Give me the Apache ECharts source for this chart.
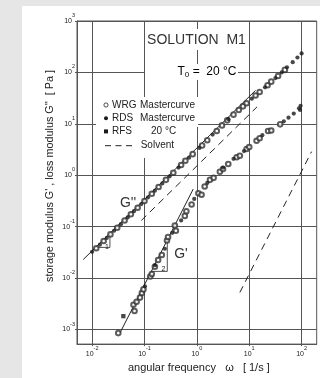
<!DOCTYPE html>
<html><head><meta charset="utf-8">
<script src="https://cdn.jsdelivr.net/npm/echarts@6/dist/echarts.min.js"></script>
<style>
html,body{margin:0;padding:0;background:#e6e6e6;width:320px;height:378px;overflow:hidden;}
#panel{position:absolute;left:22px;top:6px;right:0;bottom:0;background:#fff;}
#c{position:absolute;left:0;top:0;width:320px;height:378px;}
</style>
</head><body><div id="panel"></div><div id="c"></div>
<script>
// axis ticks (log decades)
const xTicks = [0.01, 0.1, 1, 10, 100];
const yTicks = [0.001, 0.01, 0.1, 1, 10, 100, 1000];

// G'' loss modulus, WRG mastercurve (open circles)
const wrgLossW = [0.0120,0.0166,0.0224,0.0302,0.0417,0.055,0.0741,0.1,0.138,0.186,0.257,0.355,0.501,0.603,0.832,1.26,1.58,2.4,3.02,3.8,5.01,6.31,7.59,8.91,13.2,15.8,22.4,26.3,35.5,47.9];
const wrgLossG = [0.038,0.0525,0.0708,0.0955,0.132,0.174,0.234,0.316,0.437,0.589,0.813,1.12,1.58,1.91,2.57,3.80,4.79,7.24,9.33,11.7,15.1,18.6,21.9,25.1,35.5,41.7,56.2,66.1,85.1,112];
// G'' loss modulus, RDS mastercurve (filled circles)
const rdsLossW = [0.010,0.0141,0.0191,0.0263,0.0355,0.0479,0.0631,0.0871,0.117,0.158,0.219,0.302,0.447,0.708,1.12,2.0,3.98,11.2,20.0,31.6,41.7,52.5,67.6,83.2,100];
const rdsLossG = [0.0324,0.0447,0.0603,0.0832,0.112,0.151,0.200,0.275,0.372,0.501,0.692,0.955,1.41,2.19,3.39,6.17,12.3,30.9,51.3,77.6,100,126,158,195,234];
// G' storage modulus, WRG mastercurve (open circles)
const wrgStoreW = [0.0316,0.0646,0.0617,0.0708,0.0822,0.0891,0.0955,0.129,0.138,0.158,0.182,0.214,0.269,0.282,0.380,0.398,0.589,0.631,0.794,1.07,1.23,1.41,1.78,2.09,2.75,3.16,3.98,5.75,6.61,8.91,10,13.8,15.8,22.9,26.3,38.9];
const wrgStoreG = [0.000851,0.00229,0.00302,0.00347,0.00417,0.00513,0.00603,0.0107,0.0120,0.0166,0.0224,0.0282,0.0537,0.0631,0.105,0.0832,0.162,0.200,0.269,0.447,0.417,0.603,0.813,0.891,1.17,1.32,1.66,2.24,2.40,3.24,3.55,4.68,5.25,7.24,7.41,9.77];
// G' storage modulus, RDS mastercurve (filled circles)
const rdsStoreW = [0.102,0.158,0.245,0.339,0.501,0.891,1.58,3.16,5.01,7.94,17.8,45.7,56.2,70.8,89.1,95.5,93.3];
const rdsStoreG = [0.00692,0.0178,0.0372,0.0759,0.132,0.347,0.708,1.41,2.09,2.95,6.03,11.2,13.2,15.8,20.0,22.4,18.6];
// RFS at 20 °C (filled square)
const rfsW = [0.0395];
const rfsG = [0.00182];
// straight lines: slope-1 fit of G'', slope-2 fit of G', solvent G'' and G'
const fitLossW = [0.00676, 13.2];
const fitLossG = [0.0229, 44.7];
const fitStoreW = [0.0339, 0.851];
const fitStoreG = [0.000851, 0.537];
const solvLossW = [0.0871, 14.1];
const solvLossG = [0.132, 21.4];
const solvStoreW = [6.61, 155];
const solvStoreG = [0.00525, 2.88];
// slope triangles
const tri1W = [0.01167, 0.0219, 0.0219];
const tri1G = [0.0395, 0.0395, 0.0741];
const tri2W = [0.1349, 0.2723, 0.2723];
const tri2G = [0.01349, 0.01349, 0.0550];

const pairs = (a, b) => a.map((v, i) => [v, b[i]]);
const ink = '#222';
const gridCol = '#555';
const FONT = 'Liberation Sans, Arial, sans-serif';

const richLbl = {
  b: {fontSize: 7, fontFamily: FONT, color: ink, verticalAlign: 'middle'},
  s: {fontSize: 5.5, fontFamily: FONT, color: ink, padding: [0, 0, 11, 0], verticalAlign: 'top'}
};
const fmt = v => '{b|10}{s|' + Math.round(Math.log10(v)) + '}';

const lineSeries = (w, g, dash, width) => ({
  type: 'line', data: pairs(w, g), symbol: 'none', silent: true, z: 3,
  lineStyle: {color: ink, width: width || 1, type: dash ? [7, 5] : 'solid'}
});

const chart = echarts.init(document.getElementById('c'), null, {renderer: 'canvas'});
chart.setOption({
  backgroundColor: 'transparent',
  animation: false,
  grid: {left: 77, top: 21, right: 3.3, bottom: 28, show: true, borderColor: gridCol, borderWidth: 1, backgroundColor: 'transparent'},
  xAxis: {
    type: 'log', logBase: 10, min: 0.00515, max: 194,
    axisLine: {show: true, lineStyle: {color: gridCol, width: 1}},
    axisTick: {show: true, length: 2, customValues: xTicks, lineStyle: {color: gridCol}},
    axisLabel: {customValues: xTicks, formatter: fmt, rich: richLbl, margin: 1, color: ink},
    splitLine: {show: true, lineStyle: {color: gridCol, width: 1}},
    minorTick: {show: false}, minorSplitLine: {show: false},
    name: 'angular frequency   ω   [ 1/s ]', nameLocation: 'middle', nameGap: 16,
    nameTextStyle: {fontSize: 11, fontFamily: FONT, color: ink, verticalAlign: 'top', padding: [0, 0, 0, 4]}
  },
  yAxis: {
    type: 'log', logBase: 10, min: 0.00052, max: 1000,
    axisLine: {show: true, lineStyle: {color: gridCol, width: 1}},
    axisTick: {show: true, length: 2, customValues: yTicks, lineStyle: {color: gridCol}},
    axisLabel: {customValues: yTicks, formatter: fmt, rich: richLbl, margin: 2, color: ink},
    splitLine: {show: true, lineStyle: {color: gridCol, width: 1}},
    minorTick: {show: false}, minorSplitLine: {show: false}
  },
  series: [
    lineSeries(fitLossW, fitLossG, false, 1),
    lineSeries(fitStoreW, fitStoreG, false, 1),
    lineSeries(solvLossW, solvLossG, true, 1),
    lineSeries(solvStoreW, solvStoreG, true, 1),
    lineSeries(tri1W, tri1G, false, 0.8),
    lineSeries(tri2W, tri2G, false, 0.8),
    {type: 'scatter', name: 'WRG', data: pairs(wrgLossW, wrgLossG), symbol: 'emptyCircle', symbolSize: 4.6, z: 4,
     itemStyle: {color: '#333', borderColor: '#333', borderWidth: 0.8}},
    {type: 'scatter', name: 'WRG', data: pairs(wrgStoreW, wrgStoreG), symbol: 'emptyCircle', symbolSize: 4.6, z: 4,
     itemStyle: {color: '#333', borderColor: '#333', borderWidth: 0.8}},
    {type: 'scatter', name: 'RDS', data: pairs(rdsLossW, rdsLossG), symbol: 'circle', symbolSize: 4.2, z: 5,
     itemStyle: {color: '#1a1a1a'}},
    {type: 'scatter', name: 'RDS', data: pairs(rdsStoreW, rdsStoreG), symbol: 'circle', symbolSize: 4.2, z: 5,
     itemStyle: {color: '#1a1a1a'}},
    {type: 'scatter', name: 'RFS', data: pairs(rfsW, rfsG), symbol: 'rect', symbolSize: 4.3, z: 5,
     itemStyle: {color: '#1a1a1a'}}
  ],
  graphic: [
    // white boxes hiding the grid behind texts
    {type: 'rect', z: 1, silent: true, shape: {x: 96, y: 97, width: 102, height: 30}, style: {fill: '#fff'}},
    {type: 'rect', z: 1, silent: true, shape: {x: 96, y: 127, width: 84, height: 31}, style: {fill: '#fff'}},
    {type: 'rect', z: 1, silent: true, shape: {x: 145, y: 29, width: 104, height: 21}, style: {fill: '#fff'}},
    {type: 'rect', z: 1, silent: true, shape: {x: 145, y: 64, width: 93, height: 16}, style: {fill: '#fff'}},
    // title
    {type: 'text', z: 10, x: 196.5, y: 40, style: {text: 'SOLUTION  M1', font: '14px ' + FONT, fill: '#333', align: 'center', verticalAlign: 'middle'}},
    {type: 'text', z: 10, x: 207, y: 72, style: {
      text: '{a|T}{s|0}{a| =  20 °C}', align: 'center', verticalAlign: 'middle',
      rich: {a: {fontSize: 12, fontFamily: FONT, color: '#333'}, s: {fontSize: 8, fontFamily: FONT, color: '#333', padding: [6, 0, 0, 0]}}
    }},
    // legend
    {type: 'circle', z: 10, shape: {cx: 106, cy: 105, r: 2.1}, style: {fill: '#fff', stroke: ink, lineWidth: 0.8}},
    {type: 'circle', z: 10, shape: {cx: 106, cy: 118.3, r: 2.0}, style: {fill: '#1a1a1a'}},
    {type: 'rect', z: 10, shape: {x: 104, y: 129.4, width: 4, height: 4}, style: {fill: '#1a1a1a'}},
    {type: 'line', z: 10, shape: {x1: 105, y1: 145.7, x2: 134, y2: 145.7}, style: {stroke: ink, lineWidth: 1, lineDash: [6, 4.5]}},
    {type: 'text', z: 10, x: 112, y: 105, style: {text: 'WRG', font: '10px ' + FONT, fill: ink, verticalAlign: 'middle'}},
    {type: 'text', z: 10, x: 140, y: 105, style: {text: 'Mastercurve', font: '10px ' + FONT, fill: ink, verticalAlign: 'middle'}},
    {type: 'text', z: 10, x: 112, y: 118.3, style: {text: 'RDS', font: '10px ' + FONT, fill: ink, verticalAlign: 'middle'}},
    {type: 'text', z: 10, x: 140, y: 118.3, style: {text: 'Mastercurve', font: '10px ' + FONT, fill: ink, verticalAlign: 'middle'}},
    {type: 'text', z: 10, x: 112, y: 131.5, style: {text: 'RFS', font: '10px ' + FONT, fill: ink, verticalAlign: 'middle'}},
    {type: 'text', z: 10, x: 151, y: 131.5, style: {text: '20 °C', font: '10px ' + FONT, fill: ink, verticalAlign: 'middle'}},
    {type: 'text', z: 10, x: 140.7, y: 145.7, style: {text: 'Solvent', font: '10px ' + FONT, fill: ink, verticalAlign: 'middle'}},
    // curve labels
    {type: 'text', z: 10, x: 128, y: 203, style: {text: "G''", font: '14px ' + FONT, fill: '#333', align: 'center', verticalAlign: 'middle'}},
    {type: 'text', z: 10, x: 181, y: 254, style: {text: "G'", font: '14px ' + FONT, fill: '#333', align: 'center', verticalAlign: 'middle'}},
    // slope labels
    {type: 'text', z: 10, x: 107, y: 247.5, style: {text: '1', font: '7px ' + FONT, fill: ink, align: 'center', verticalAlign: 'middle'}},
    {type: 'text', z: 10, x: 163.5, y: 269, style: {text: '2', font: '7px ' + FONT, fill: ink, align: 'center', verticalAlign: 'middle'}},
    // y axis title
    {type: 'text', z: 10, x: 50, y: 176, rotation: Math.PI / 2, style: {
      text: "storage modulus G' , loss modulus G''  [ Pa ]", font: '10.8px ' + FONT, fill: ink, align: 'center', verticalAlign: 'middle'}}
  ]
});
</script></body></html>
